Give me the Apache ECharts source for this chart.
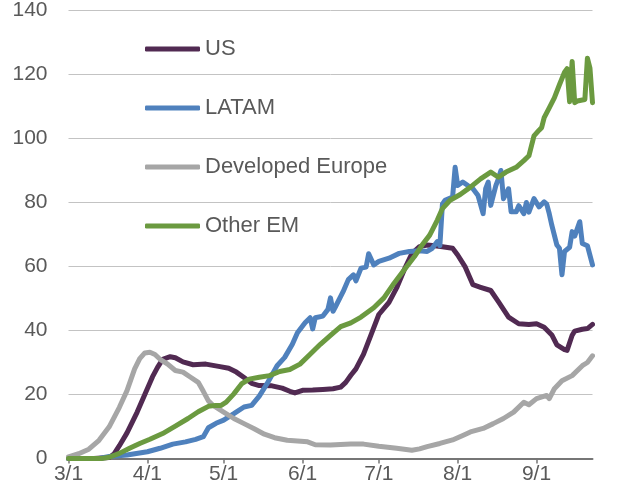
<!DOCTYPE html>
<html>
<head>
<meta charset="utf-8">
<script src="https://cdn.jsdelivr.net/npm/echarts@6/dist/echarts.min.js"></script>
<style>
    html, body { margin: 0; padding: 0; background: #fff; }
    #chart { width: 618px; height: 491px; }
</style>
</head>
<body>
<div id="chart"></div>
<script>
// days counted from 3/1 (index 0) to 9/23 (index 206)
var startMonth = 3, dayCount = 207;
var yTicks = [0, 20, 40, 60, 80, 100, 120, 140];
var seriesNames = ['US', 'LATAM', 'Developed Europe', 'Other EM'];

// [day index, value]
var usData = [[0,0],[10,0],[16,0.3],[18,1.5],[20,4],[23,8],[27,14.5],[30,20],[33,25.5],[35,28.5],[37,31],[40,31.8],
    [42,31.5],[45,30.2],[49,29.3],[54,29.5],[59,28.8],[63,28.2],[66,27],[69,25.3],[72,23.5],[75,22.8],[80,22.7],
    [84,22],[87,21],[89,20.5],[92,21.3],[96,21.4],[100,21.6],[104,21.8],[107,22.3],[109,23.8],[111,26],[113,28],
    [116,32.6],[119,38.8],[122,45],[126,48.8],[129,53.3],[132,59],[135,64],[138,66.2],[141,66.7],[144,66.5],
    [147,66.2],[151,65.7],[153,63.6],[156,59.8],[159,54.3],[162,53.5],[166,52.5],[169,49],[173,44.2],[177,42.1],
    [181,41.9],[184,42.1],[187,41],[190,38.6],[192,35.5],[195,34],[196,33.8],[198,38.5],[199,39.8],[202,40.4],
    [204,40.6],[206,41.9]];
var latamData = [[0,0],[12,0],[16,0.6],[23,1.1],[31,2.1],[36,3.2],[41,4.5],[46,5.2],[50,6],[53,6.8],[55,9.6],
    [58,11],[61,12],[65,14],[69,16.1],[72,16.6],[75,19.5],[78,23.3],[82,29],[85,31.6],[88,35.7],[90,39.3],
    [93,42.4],[95,44],[96,40.5],[97,44],[100,44.5],[102,46.6],[103,50.2],[104,46],[105,47.5],[108,52.2],
    [110,55.9],[112,57.4],[113,55.5],[115,59.5],[117,59.8],[118,64],[120,60.5],[122,61.6],[126,62.6],[130,64.1],
    [134,64.7],[138,64.9],[141,64.7],[143,65.7],[145,67.8],[146,66.5],[147,79.5],[148,80.7],[151,81.7],[152,91],
    [153,85.3],[155,86.4],[157,85.3],[159,84.3],[161,82.2],[163,76.5],[164,84.3],[165,86.4],[166,79.1],[168,85.3],
    [169,87.4],[170,90],[171,81.2],[173,84.3],[174,77.1],[176,77.1],[177,79],[179,76.5],[180,80],[181,77],
    [183,81.2],[185,78.6],[187,80.2],[188,79.5],[189,76.5],[190,72.9],[192,66.7],[193,65.7],[194,57.4],
    [195,64.7],[197,66],[198,70.9],[199,69.5],[201,74],[202,67.2],[204,66.5],[206,60.5]];
var europeData = [[0,0.5],[4,1.5],[8,2.9],[12,5.7],[16,9.9],[20,16],[23,21.2],[26,28],[28,31.2],[30,33],[32,33.2],
    [34,32.5],[36,31],[39,29.5],[42,27.5],[45,27],[48,25.4],[51,23.8],[53,21],[55,18],[57,16.5],[61,14.5],
    [65,12.5],[69,10.9],[73,9.3],[77,7.6],[81,6.5],[86,5.7],[90,5.5],[94,5.2],[97,4.3],[103,4.2],[107,4.4],
    [111,4.5],[116,4.5],[122,3.8],[129,3.2],[135,2.6],[138,3],[141,3.7],[146,4.7],[151,5.8],[155,7.2],[158,8.3],
    [163,9.4],[167,10.9],[171,12.5],[175,14.5],[179,17.6],[181,16.8],[184,18.7],[188,19.7],[189,18.7],[191,21.8],
    [194,24.3],[198,25.9],[202,29],[204,30],[206,32.1]];
var otherEmData = [[0,0],[13,0],[16,0.4],[20,1.6],[24,3.2],[28,4.7],[32,6],[37,7.8],[42,10.1],[47,12.5],[51,14.6],
    [55,16.3],[58,16.6],[60,16.6],[62,17.6],[65,20.2],[68,23.3],[71,24.8],[75,25.4],[79,25.9],[83,27.2],[87,27.8],
    [91,29.5],[95,32.6],[99,35.7],[103,38.5],[107,41.2],[111,42.4],[115,44.2],[120,47.1],[124,50.2],[128,54.8],
    [132,59],[136,63.1],[139,66.7],[142,69.8],[145,74.5],[147,78.1],[150,80.7],[154,82.5],[158,84.8],[162,87.4],
    [166,89.5],[169,87.9],[172,89.5],[176,91],[179,93.1],[181,94.6],[183,100.8],[185,102.6],[186,103.4],
    [187,106.5],[189,109.6],[191,112.7],[193,116.8],[195,120.7],[196,121.8],[197,111.5],[198,124.1],[199,111.2],
    [200,111.7],[203,112.2],[204,125.1],[205,122],[206,111.2]];
var colors = ['#512a52', '#4f81bd', '#a6a6a6', '#6b9a40'];

var monthDays = {3: 31, 4: 30, 5: 31, 6: 30, 7: 31, 8: 31, 9: 30};
var categories = [];
(function () {
    var m = startMonth, d = 1;
    for (var i = 0; i < dayCount; i++) {
        categories.push(m + '/' + d);
        d++;
        if (d > monthDays[m]) { d = 1; m++; }
    }
})();

function isMonthStart(index, value) {
    return /\/1$/.test(value);
}

var allData = [usData, latamData, europeData, otherEmData];
var series = [];
for (var i = 0; i < seriesNames.length; i++) {
    series.push({
        name: seriesNames[i],
        type: 'line',
        data: allData[i],
        showSymbol: false,
        symbol: 'none',
        lineStyle: { width: 5, color: colors[i], cap: 'round', join: 'round' },
        itemStyle: { color: colors[i] }
    });
}

var chart = echarts.init(document.getElementById('chart'));
chart.setOption({
    animation: false,
    color: colors,
    grid: { left: 68.5, right: 25.5, top: 7, bottom: 32.5, containLabel: false },
    legend: {
        orient: 'vertical',
        left: 140,
        top: 33,
        itemWidth: 55,
        itemHeight: 5,
        itemGap: 37,
        icon: 'roundRect',
        textStyle: { fontFamily: 'Liberation Sans, Arial', fontSize: 22, color: '#595959', lineHeight: 22 },
        data: seriesNames
    },
    xAxis: {
        type: 'category',
        data: categories,
        boundaryGap: false,
        axisLine: { lineStyle: { color: '#767676', width: 2 } },
        axisTick: { interval: isMonthStart, length: 5, lineStyle: { color: '#767676', width: 1.5 } },
        axisLabel: {
            interval: isMonthStart,
            margin: 5,
            fontFamily: 'Liberation Sans, Arial',
            fontSize: 21,
            color: '#595959'
        },
        splitLine: { show: false }
    },
    yAxis: {
        type: 'value',
        min: yTicks[0],
        max: yTicks[yTicks.length - 1],
        interval: 20,
        axisLine: { show: false },
        axisTick: { show: false },
        axisLabel: { margin: 21, fontFamily: 'Liberation Sans, Arial', fontSize: 21, color: '#595959' },
        splitLine: { lineStyle: { color: '#c3c3c3', width: 1 } }
    },
    series: series
});
</script>
</body>
</html>
